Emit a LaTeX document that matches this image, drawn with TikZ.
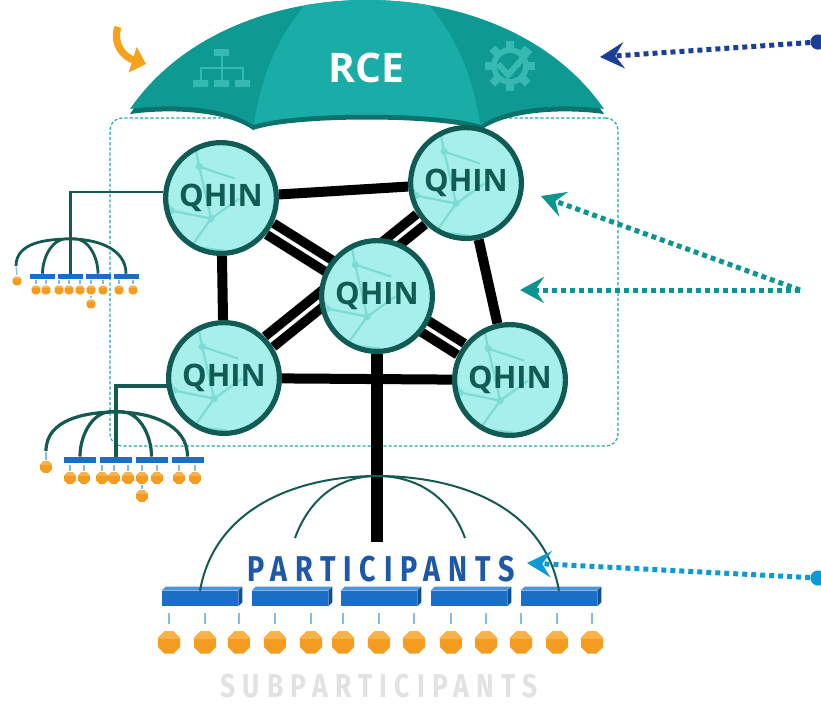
\documentclass[tikz,border=0pt]{standalone}
\usepackage{fontspec}
\setmainfont{Open Sans}
\newfontfamily\capsfont[FakeStretch=0.8,LetterSpace=22]{Fira Sans}
\usetikzlibrary{arrows.meta,shapes.geometric,calc,backgrounds}

\definecolor{rcemid}{HTML}{1AADA7}
\definecolor{rceside}{HTML}{0E9992}
\definecolor{rcerim}{HTML}{0A736D}
\definecolor{rceicon}{HTML}{35B9B1}
\definecolor{qfill}{HTML}{A6EFEA}
\definecolor{qnet}{HTML}{7CDCD5}
\definecolor{qedge}{HTML}{105C55}
\definecolor{treeline}{HTML}{155A50}
\definecolor{busblue}{HTML}{1A6FC4}
\definecolor{bustop}{HTML}{4C93DA}
\definecolor{busside}{HTML}{0F4F94}
\definecolor{subor}{HTML}{F39C1F}
\definecolor{subtop}{HTML}{F7B24A}
\definecolor{tickblue}{HTML}{86BCDF}
\definecolor{boxteal}{HTML}{1FA9A9}
\definecolor{navyar}{HTML}{1B3F95}
\definecolor{tealar}{HTML}{0B9591}
\definecolor{skyar}{HTML}{0D99D3}
\definecolor{parttext}{HTML}{1F58A6}
\definecolor{subtext}{HTML}{E2E2E2}
\definecolor{arrowor}{HTML}{F6A21D}

% canopy outline, px units (y grows downwards)
\newcommand{\canopypath}{(130,114) .. controls (178,44) and (268,5) .. (367,5)
  .. controls (466,5) and (556,44) .. (604,114)
  .. controls (560,108) and (506,112) .. (481,130)
  .. controls (440,116) and (294,116) .. (253,130)
  .. controls (228,112) and (174,108) .. (130,114) -- cycle}

% mesh texture inside a QHIN disc
\newcommand{\qhinnet}{%
  \begin{scope}[shift={(path picture bounding box.center)}, qnet, line width=0.55mm]
    \draw (-15mm,3mm) -- (-6mm,8mm) -- (1mm,15mm);
    \draw (-6mm,8mm) -- (-2mm,-1mm) -- (8mm,-3mm) -- (15mm,2mm);
    \draw (4mm,15mm) -- (5mm,10mm) -- (8mm,-3mm);
    \draw (5mm,10mm) -- (14mm,7mm);
    \draw (-2mm,-1mm) -- (-9mm,-7mm) -- (-15mm,-5mm);
    \draw (-9mm,-7mm) -- (-6mm,-15mm);
    \draw (8mm,-3mm) -- (3mm,-10mm) -- (1mm,-15mm);
    \draw (3mm,-10mm) -- (11mm,-11mm);
    \foreach \p in {(-6mm,8mm),(5mm,10mm),(-2mm,-1mm),(8mm,-3mm),(-9mm,-7mm),(3mm,-10mm)}
      \fill \p circle (0.9mm);
  \end{scope}}

\tikzset{
  qhin/.style   = {circle, draw=qedge, line width=1.3mm, fill=qfill, minimum size=27.7mm,
                   inner sep=0pt, text=qedge, font=\fontsize{22}{22}\selectfont\bfseries,
                   path picture={\qhinnet}},
  link/.style   = {line width=2.5mm, black},
  dlink/.style  = {line width=2.4mm, black, double=white, double distance=0.9mm},
  netbox/.style = {draw=boxteal, line width=0.3mm, dash pattern=on 0.8mm off 0.5mm,
                   rounded corners=3mm, minimum width=127mm, minimum height=82mm},
  branch/.style = {treeline, line width=0.7mm},
  parc/.style   = {treeline, line width=0.5mm},
  tick/.style   = {tickblue, line width=0.3mm, shorten <=0.3mm, shorten >=0.3mm},
  ptick/.style  = {tickblue, line width=0.35mm, shorten <=1.7mm, shorten >=1.7mm},
  tbus/.style   = {fill=busblue, inner sep=0pt, minimum width=6.25mm, minimum height=1.25mm},
  tbusb/.style  = {fill=busblue, inner sep=0pt, minimum width=8mm, minimum height=1.6mm},
  pbus/.style   = {fill=busblue, inner sep=0pt, minimum width=19mm, minimum height=3.75mm},
  drum/.style   = {regular polygon, regular polygon sides=8, fill=subor, inner sep=0pt,
                   path picture={\fill[subtop] (path picture bounding box.north west)
                     rectangle ([yshift=-0.3*#1]path picture bounding box.north east);}},
  tdot/.style   = {drum=2.4mm, minimum size=2.4mm},
  tdotb/.style  = {drum=3.2mm, minimum size=3.2mm},
  pdot/.style   = {drum=6mm, minimum size=6mm},
  srcdot/.style = {circle, inner sep=0pt, minimum size=3.8mm},
  pointline/.style = {line width=1.25mm, dash pattern=on 1.25mm off 1mm,
                      -{Stealth[length=6mm,width=6.5mm,inset=2.2mm]}},
  pointer/.style = {arrowor, line width=1.8mm, -{Triangle[length=3.5mm,width=6.5mm]}},
  caption/.style = {inner sep=1pt, font=\capsfont\bfseries\fontsize{25.5}{25.5}\selectfont}
}

\begin{document}
\begin{tikzpicture}[x=0.25mm, y=-0.25mm]
\useasboundingbox (0,0) rectangle (821,705);

% ---------------- canopy ----------------
\fill[rcerim] \canopypath;
\begin{scope}[yshift=1.25mm]
  \fill[rceside] \canopypath;
  \clip \canopypath;
  \fill[rcemid] (253,135) .. controls (262,70) and (285,30) .. (318,-5)
     -- (416,-5) .. controls (449,30) and (472,70) .. (481,135) -- cycle;
\end{scope}
% org chart glyph
\fill[rceicon] (214,49) rectangle (229,56);
\draw[rceicon, line width=0.5mm] (221.5,56) -- (221.5,80) (200.5,80) |- (242.5,68) -- (242.5,80);
\fill[rceicon] (193,80) rectangle (208,87) (214,80) rectangle (229,87) (235,80) rectangle (250,87);
% gear glyph
\foreach \a in {0,45,...,315}
  \fill[rceicon, rotate around={\a:(510,66)}] (506,41) rectangle (514,49);
\draw[rceicon, line width=1.4mm] (510,66) circle (4mm);
\draw[rceicon, line width=1.5mm] (498,64) -- (508,75) -- (530,50);
\node[text=white, font=\fontsize{29}{29}\selectfont\bfseries] (rce) at (366,67.5) {RCE};

\coordinate (ptr0) at (118,27);
\coordinate (ptr1) at (146,64);
\draw[pointer] (ptr0) .. controls (112,44) and (124,57) .. (ptr1);

% ---------------- QHIN mesh ----------------
\node[qhin] (qtl)  at (221,198) {QHIN};
\node[qhin] (qtr)  at (466,183) {QHIN};
\node[qhin] (qmid) at (377,296) {QHIN};
\node[qhin] (qbl)  at (224,378) {QHIN};
\node[qhin] (qbr)  at (510,380) {QHIN};
\coordinate (trunk) at (377,542);

\begin{scope}[on background layer]
  \node[netbox] (net) at (364,282) {};
  \draw[link] (qtl) -- (qtr);
  \draw[link] (qtl) -- (qbl);
  \draw[link] (qtr) -- (qbr);
  \draw[link] (qbl) -- (qbr);
  \draw[dlink] (qtl) -- (qbr);
  \draw[dlink] (qtr) -- (qbl);
  \draw[link, line width=2.9mm] (qmid) -- (trunk);
\end{scope}

% ---------------- tree off the upper left QHIN ----------------
\coordinate (ta) at (70.5,239);
\coordinate (tae) at (16,266);
\foreach \i/\x in {1/42.5,2/70.5,3/98,4/126}
  \node[tbus] (ta\i) at (\x,276.5) {};
\foreach \i/\x in {1/36,2/46,3/59,4/69,5/80,6/91,7/103,8/119,9/133}
  \node[tdot] (tad\i) at (\x,290) {};
\node[tdot] (tal) at (17,281) {};
\node[tdot] (tax) at (91,304) {};
\draw[branch] (qtl.174) -| (ta2.north);
\draw[branch] (ta) to[out=180,in=90] (tae)  (ta) to[out=170,in=90] (ta1.north)
              (ta) to[out=10,in=90] (ta3.north)  (ta) to[out=0,in=90] (ta4.north);
\foreach \i in {1,...,9}
  \draw[tick] (tad\i.north) -- (tad\i.north |- ta1.south);
\draw[tick] (tal.north) -- (tae);
\draw[tick] (tax.north) -- (tad6.south);

% ---------------- tree off the lower left QHIN ----------------
\coordinate (tb) at (116,412);
\coordinate (tbe) at (46,451);
\foreach \i/\x in {1/80,2/116,3/151.5,4/187.5}
  \node[tbusb] (tb\i) at (\x,460) {};
\foreach \i/\x in {1/70,2/84,3/102,4/114,5/128,6/142,7/157,8/179,9/195}
  \node[tdotb] (tbd\i) at (\x,478) {};
\node[tdotb] (tbl) at (46,467) {};
\node[tdotb] (tbx) at (142,496) {};
\draw[branch, line width=0.8mm] (qbl.188) -| (tb2.north);
\draw[branch, line width=0.8mm] (tb) to[out=180,in=90] (tbe)  (tb) to[out=170,in=90] (tb1.north)
              (tb) to[out=10,in=90] (tb3.north)  (tb) to[out=0,in=90] (tb4.north);
\foreach \i in {1,...,9}
  \draw[tick] (tbd\i.north) -- (tbd\i.north |- tb1.south);
\draw[tick] (tbl.north) -- (tbe);
\draw[tick] (tbx.north) -- (tbd6.south);

% ---------------- participants ----------------
\coordinate (pa) at (377,476);
\coordinate (pl) at (295,538);
\coordinate (pr) at (465,538);
\foreach \i/\x in {1/200,2/290,3/379,4/469,5/559} {
  \node[pbus] (pb\i) at (\x,598.5) {};
  \fill[bustop] (pb\i.north west) -- ++(4,-4) -- ($(pb\i.north east)+(4,-4)$) -- (pb\i.north east) -- cycle;
  \fill[busside] (pb\i.north east) -- ++(4,-4) -- ($(pb\i.south east)+(4,-4)$) -- (pb\i.south east) -- cycle;
}
\foreach \i/\x in {1/169,2/205,3/239,4/275,5/311,6/343,7/379,8/414,9/451,10/486,11/521,12/557,13/592}
  \node[pdot] (pd\i) at (\x,642.5) {};
\foreach \i in {1,...,13}
  \draw[ptick] (pd\i.north) -- (pd\i.north |- pb1.south);
\draw[parc] (pa) to[out=180,in=80] (pb1.north);
\draw[parc] (pa) to[out=0,in=100] (pb5.north);
\draw[parc] (pa) to[out=180,in=70] (pl);
\draw[parc] (pa) to[out=0,in=110] (pr);

\node[caption, text=parttext] (ptitle) at (381,569) {PARTICIPANTS};
\node[caption, text=subtext, font=\capsfont\bfseries\fontsize{23.5}{23.5}\selectfont] (stitle) at (379,686) {SUBPARTICIPANTS};

% ---------------- pointers ----------------
\node[srcdot, fill=navyar] (rcesrc) at (818,42) {};
\coordinate (rcetip) at (600,57);
\draw[pointline, navyar] (rcesrc) -- (rcetip);

\coordinate (qsrc) at (800,290);
\coordinate (qtip1) at (541,196);
\coordinate (qtip2) at (520,290);
\draw[pointline, tealar] (qsrc) -- (qtip1);
\draw[pointline, tealar] (qsrc) -- (qtip2);

\node[srcdot, fill=skyar] (psrc) at (818,578) {};
\coordinate (ptip) at (527,563);
\draw[pointline, skyar] (psrc) -- (ptip);

\end{tikzpicture}
\end{document}
